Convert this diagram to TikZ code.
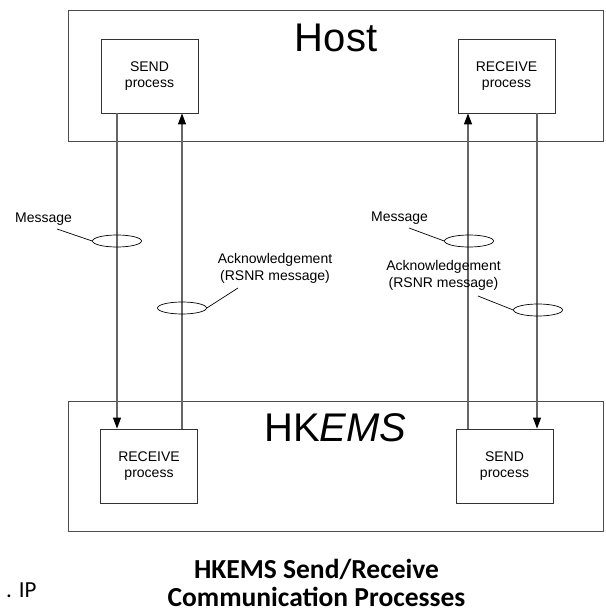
\documentclass[tikz,border=0pt]{standalone}
\usepackage{fontspec}
\setmainfont{Liberation Sans}
\newfontfamily\titlefont{Carlito}
\usetikzlibrary{shapes.geometric,arrows.meta,positioning}
\tikzstyle{line} = [draw, black!60, line width=1.1pt, -{Triangle[length=11pt,width=8pt,color=black]}]
\tikzset{
    every node/.style={font=\fontsize{14}{16.5}\selectfont},
    frame/.style={draw=black!70, line width=1pt, minimum width=535pt, minimum height=130pt, inner sep=0pt},
    proc/.style={draw=black!80, line width=0.8pt, minimum width=97pt, minimum height=74pt, align=center, inner sep=0pt},
    tag/.style={draw, ellipse, line width=0.7pt, minimum width=49pt, minimum height=12pt, inner sep=0pt},
    note/.style={align=center, inner sep=0pt},
    big/.style={font=\fontsize{40}{48}\selectfont, inner sep=0pt}
}

\begin{document}
\begin{tikzpicture}[x=1pt,y=-1pt]
            \useasboundingbox (0,0) rectangle (605,615);

            % Host and HKEMS frames
            \node[frame] (host) at (335.5,76) {};
            \node[frame] (hkems) at (335.5,466) {};
            \node[big] (hosttxt) at (336,38) {Host};
            \node[big] (hkemstxt) at (335.5,428) {HK\textit{EMS}};

            % Processes
            \node[proc] (hsend) at (149.5,76) {SEND\\process};
            \node[proc] (hrecv) at (506.5,76) {RECEIVE\\process};
            \node[proc] (erecv) at (149,466) {RECEIVE\\process};
            \node[proc] (esend) at (504.5,466) {SEND\\process};

            % Message and acknowledgement flows
            \draw[line] (hsend.south -| 117,0) -- (erecv.north -| 117,0);
            \draw[line] (erecv.north -| 182,0) -- (hsend.south -| 182,0);
            \draw[line] (esend.north -| 468,0) -- (hrecv.south -| 468,0);
            \draw[line] (hrecv.south -| 537,0) -- (esend.north -| 537,0);

            % Ellipse markers on the flows
            \node[tag] (lmsg) at (117,241) {};
            \node[tag] (lack) at (182,308) {};
            \node[tag] (rmsg) at (469,241) {};
            \node[tag] (rack) at (538,310) {};

            % Labels with leaders
            \node[note] (lmsglab) at (43.5,219) {Message};
            \node[note] (lacklab) at (275,268.5) {Acknowledgement\\(RSNR message)};
            \node[note] (rmsglab) at (399.5,218) {Message};
            \node[note] (racklab) at (443.5,275.5) {Acknowledgement\\(RSNR message)};
            \coordinate (lmsgtip) at (57,229);
            \coordinate (lacktip) at (238,288);
            \coordinate (rmsgtip) at (409,228);
            \coordinate (racktip) at (478,296);
            \draw[line width=0.7pt] (lmsgtip) -- (lmsg.west);
            \draw[line width=0.7pt] (lacktip) -- (lack.east);
            \draw[line width=0.7pt] (rmsgtip) -- (rmsg.west);
            \draw[line width=0.7pt] (racktip) -- (rack.west);

            % Caption
            \node[font=\titlefont\bfseries\fontsize{27.5}{29}\selectfont, anchor=base, inner sep=0pt] (title1) at (316.5,578) {HKEMS Send/Receive};
            \node[font=\titlefont\bfseries\fontsize{27.5}{29}\selectfont, anchor=base, inner sep=0pt] (title2) at (316.5,606) {Communication Processes};
            \node[font=\titlefont\fontsize{23}{26}\selectfont, anchor=base west, inner sep=0pt] (ip) at (6,597) {. IP};
        \end{tikzpicture}
\end{document}
